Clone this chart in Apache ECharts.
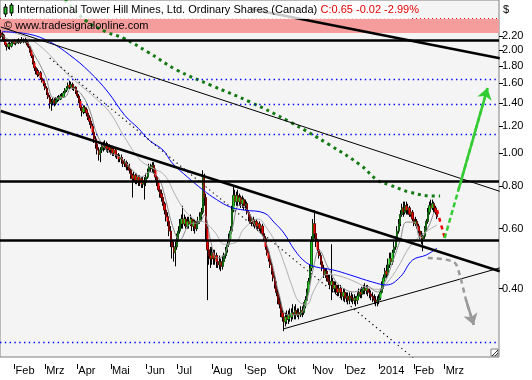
<!DOCTYPE html>
<html><head><meta charset="utf-8">
<script src="https://cdn.jsdelivr.net/npm/echarts@6/dist/echarts.min.js"></script>
<style>html,body{margin:0;padding:0;background:#fff}#c{width:532px;height:380px}</style>
</head><body><div id="c"></div>
<script>
// ---- axis definition ----
const startDate = [2013, 0, 21];      // first weekday on the axis
const dayCount = 326;                 // weekdays shown (incl. projection space)
const lastLabelDay = 300;             // no month label after this day
const monthNames = ['Jan','Feb','Mrz','Apr','Mai','Jun','Jul','Aug','Sep','Okt','Nov','Dez'];
const yTicks = [0.40,0.60,0.80,1.00,1.20,1.40,1.60,1.80,2.00,2.20];
const yMin = 0.252, yMax = 2.812;

// ---- daily prices (CAD) ----
const open = [
2.25,2.20,2.22,2.14,2.08,2.05,2.09,2.06,2.10,2.13, 2.10,2.12,2.14,2.11,2.13,2.15,2.12,2.14,2.10,2.05,
2.00,1.93,1.84,1.78,1.74,1.70,1.72,1.66,1.63,1.60, 1.55,1.50,1.46,1.40,1.41,1.43,1.40,1.43,1.45,1.44,
1.47,1.46,1.50,1.53,1.55,1.58,1.56,1.59,1.55,1.56, 1.51,1.47,1.42,1.36,1.32,1.36,1.34,1.31,1.27,1.24,
1.20,1.15,1.10,1.06,1.02,0.99,1.02,1.05,1.04,1.06, 1.03,1.04,1.02,1.03,1.00,1.02,0.99,0.98,0.96,0.97,
0.95,0.93,0.94,0.91,0.92,0.89,0.86,0.84,0.86,0.83, 0.85,0.82,0.84,0.81,0.83,0.82,0.85,0.88,0.91,0.90,
0.92,0.89,0.85,0.82,0.78,0.76,0.74,0.71,0.68,0.65, 0.63,0.59,0.55,0.53,0.51,0.53,0.56,0.59,0.62,0.64,
0.62,0.64,0.61,0.63,0.62,0.64,0.61,0.63,0.60,0.62, 0.63,0.65,0.67,0.85,0.74,0.60,0.52,0.50,0.49,0.51,
0.49,0.50,0.48,0.47,0.48,0.465,0.48,0.50,0.52,0.54, 0.56,0.59,0.68,0.75,0.72,0.75,0.72,0.74,0.71,0.73,
0.70,0.71,0.67,0.65,0.63,0.64,0.62,0.63,0.61,0.62, 0.60,0.61,0.58,0.56,0.53,0.51,0.49,0.47,0.45,0.43,
0.41,0.39,0.37,0.36,0.34,0.33,0.32,0.33,0.325,0.335, 0.33,0.34,0.335,0.345,0.335,0.34,0.335,0.345,0.34,0.355,
0.37,0.39,0.42,0.46,0.55,0.62,0.58,0.55,0.52,0.50, 0.48,0.46,0.44,0.45,0.43,0.42,0.41,0.42,0.40,0.41,
0.40,0.39,0.40,0.39,0.38,0.39,0.375,0.38,0.37,0.38, 0.375,0.37,0.375,0.37,0.38,0.39,0.385,0.395,0.40,0.395,
0.40,0.39,0.385,0.38,0.375,0.37,0.365,0.37,0.375,0.39, 0.41,0.43,0.45,0.44,0.47,0.49,0.48,0.51,0.53,0.56,
0.59,0.62,0.66,0.69,0.67,0.70,0.68,0.69,0.66,0.67, 0.64,0.62,0.63,0.61,0.59,0.57,0.56,0.57,0.60,0.63,
0.67,0.70,0.69,0.71,0.69,0.67];
const close = [
2.20,2.22,2.14,2.08,2.05,2.09,2.06,2.10,2.13,2.10, 2.12,2.14,2.11,2.13,2.15,2.12,2.14,2.10,2.05,2.00,
1.93,1.84,1.78,1.74,1.70,1.72,1.66,1.63,1.60,1.55, 1.50,1.46,1.40,1.41,1.43,1.40,1.43,1.45,1.44,1.47,
1.46,1.50,1.53,1.55,1.58,1.56,1.59,1.55,1.56,1.51, 1.47,1.42,1.36,1.32,1.36,1.34,1.31,1.27,1.24,1.20,
1.15,1.10,1.06,1.02,0.99,1.02,1.05,1.04,1.06,1.03, 1.04,1.02,1.03,1.00,1.02,0.99,0.98,0.96,0.97,0.95,
0.93,0.94,0.91,0.92,0.89,0.86,0.84,0.86,0.83,0.85, 0.82,0.84,0.81,0.83,0.82,0.85,0.88,0.91,0.90,0.92,
0.89,0.85,0.82,0.78,0.76,0.74,0.71,0.68,0.65,0.63, 0.59,0.55,0.53,0.51,0.53,0.56,0.59,0.62,0.64,0.62,
0.64,0.61,0.63,0.62,0.64,0.61,0.63,0.60,0.62,0.63, 0.65,0.67,0.85,0.74,0.60,0.52,0.50,0.49,0.51,0.49,
0.50,0.48,0.47,0.48,0.465,0.48,0.50,0.52,0.54,0.56, 0.59,0.68,0.75,0.72,0.75,0.72,0.74,0.71,0.73,0.70,
0.71,0.67,0.65,0.63,0.64,0.62,0.63,0.61,0.62,0.60, 0.61,0.58,0.56,0.53,0.51,0.49,0.47,0.45,0.43,0.41,
0.39,0.37,0.36,0.34,0.33,0.32,0.33,0.325,0.335,0.33, 0.34,0.335,0.345,0.335,0.34,0.335,0.345,0.34,0.355,0.37,
0.39,0.42,0.46,0.55,0.62,0.58,0.55,0.52,0.50,0.48, 0.46,0.44,0.45,0.43,0.42,0.41,0.42,0.40,0.41,0.40,
0.39,0.40,0.39,0.38,0.39,0.375,0.38,0.37,0.38,0.375, 0.37,0.375,0.37,0.38,0.39,0.385,0.395,0.40,0.395,0.40,
0.39,0.385,0.38,0.375,0.37,0.365,0.37,0.375,0.39,0.41, 0.43,0.45,0.44,0.47,0.49,0.48,0.51,0.53,0.56,0.59,
0.62,0.66,0.69,0.67,0.70,0.68,0.69,0.66,0.67,0.64, 0.62,0.63,0.61,0.59,0.57,0.56,0.57,0.60,0.63,0.67,
0.70,0.69,0.71,0.69,0.67,0.65];
const low = [
2.17,2.15,2.12,2.05,2.00,2.02,2.01,2.04,2.08,2.08, 2.07,2.10,2.09,2.09,2.11,2.10,2.10,2.07,2.03,1.97,
1.90,1.82,1.74,1.70,1.67,1.68,1.64,1.61,1.57,1.53, 1.48,1.44,1.35,1.33,1.38,1.37,1.38,1.41,1.42,1.43,
1.44,1.45,1.48,1.51,1.53,1.54,1.55,1.53,1.52,1.49, 1.45,1.40,1.33,1.28,1.30,1.31,1.28,1.25,1.21,1.18,
1.13,1.07,1.03,0.99,0.95,0.94,1.00,1.01,1.02,1.01, 1.00,1.00,0.99,0.98,0.98,0.97,0.96,0.94,0.94,0.93,
0.91,0.91,0.89,0.89,0.87,0.84,0.74,0.82,0.81,0.81, 0.80,0.80,0.79,0.79,0.73,0.80,0.84,0.87,0.88,0.88,
0.87,0.83,0.80,0.77,0.74,0.72,0.70,0.66,0.63,0.61, 0.57,0.53,0.49,0.48,0.465,0.52,0.55,0.58,0.60,0.60,
0.61,0.60,0.60,0.60,0.61,0.59,0.59,0.58,0.59,0.60, 0.62,0.63,0.66,0.70,0.55,0.37,0.47,0.46,0.47,0.47,
0.47,0.46,0.46,0.455,0.45,0.455,0.47,0.49,0.51,0.53, 0.55,0.58,0.67,0.70,0.70,0.70,0.70,0.69,0.69,0.68,
0.68,0.66,0.63,0.62,0.61,0.61,0.60,0.60,0.59,0.59, 0.58,0.57,0.55,0.52,0.50,0.48,0.46,0.44,0.42,0.40,
0.38,0.36,0.35,0.33,0.32,0.30,0.31,0.315,0.315,0.32, 0.32,0.325,0.325,0.325,0.33,0.325,0.33,0.33,0.335,0.35,
0.365,0.385,0.41,0.45,0.54,0.56,0.53,0.51,0.49,0.47, 0.45,0.43,0.43,0.42,0.41,0.40,0.37,0.39,0.39,0.385,
0.38,0.38,0.375,0.37,0.37,0.365,0.365,0.36,0.36,0.365, 0.36,0.36,0.355,0.36,0.37,0.375,0.375,0.385,0.385,0.385,
0.38,0.375,0.37,0.365,0.36,0.355,0.355,0.36,0.37,0.385, 0.40,0.42,0.43,0.435,0.46,0.47,0.47,0.50,0.52,0.55,
0.58,0.61,0.65,0.65,0.66,0.66,0.66,0.65,0.65,0.63, 0.61,0.61,0.60,0.58,0.56,0.54,0.515,0.56,0.59,0.62,
0.66,0.67,0.68,0.67,0.66,0.64];
const high = [
2.30,2.26,2.24,2.16,2.10,2.11,2.12,2.12,2.15,2.16, 2.14,2.16,2.17,2.16,2.19,2.17,2.18,2.16,2.11,2.06,
2.01,1.95,1.86,1.80,1.77,1.75,1.74,1.68,1.65,1.62, 1.57,1.52,1.48,1.44,1.45,1.45,1.46,1.47,1.48,1.49,
1.50,1.52,1.55,1.57,1.61,1.63,1.62,1.61,1.58,1.57, 1.53,1.49,1.44,1.38,1.38,1.38,1.36,1.33,1.29,1.26,
1.22,1.17,1.12,1.08,1.04,1.04,1.07,1.08,1.09,1.08, 1.07,1.06,1.05,1.05,1.04,1.03,1.01,1.00,0.99,0.99,
0.97,0.96,0.95,0.94,0.93,0.90,0.87,0.88,0.87,0.87, 0.86,0.86,0.85,0.85,0.85,0.87,0.90,0.93,0.93,0.94,
0.94,0.90,0.86,0.83,0.80,0.78,0.75,0.72,0.70,0.67, 0.64,0.61,0.57,0.55,0.55,0.58,0.61,0.64,0.66,0.70,
0.66,0.65,0.65,0.65,0.66,0.65,0.64,0.64,0.63,0.65, 0.67,0.69,0.89,0.87,0.76,0.61,0.55,0.53,0.53,0.52,
0.52,0.51,0.50,0.50,0.49,0.50,0.51,0.53,0.55,0.58, 0.61,0.70,0.80,0.78,0.77,0.78,0.76,0.75,0.75,0.74,
0.73,0.72,0.68,0.66,0.65,0.65,0.64,0.64,0.63,0.63, 0.62,0.62,0.59,0.57,0.54,0.52,0.50,0.48,0.46,0.44,
0.42,0.40,0.38,0.37,0.35,0.34,0.34,0.345,0.345,0.35, 0.35,0.36,0.355,0.36,0.35,0.35,0.355,0.355,0.365,0.38,
0.40,0.43,0.47,0.57,0.64,0.68,0.60,0.56,0.53,0.51, 0.49,0.47,0.46,0.46,0.44,0.44,0.54,0.43,0.42,0.42,
0.41,0.41,0.41,0.40,0.40,0.40,0.39,0.39,0.39,0.39, 0.385,0.385,0.38,0.39,0.40,0.40,0.405,0.41,0.415,0.41,
0.41,0.40,0.395,0.39,0.385,0.38,0.38,0.385,0.40,0.42, 0.44,0.46,0.47,0.49,0.51,0.51,0.52,0.55,0.57,0.61,
0.64,0.68,0.71,0.72,0.72,0.72,0.71,0.70,0.69,0.68, 0.65,0.65,0.64,0.62,0.60,0.59,0.58,0.61,0.64,0.69,
0.72,0.73,0.73,0.72,0.70,0.68];

// ---- indicator lines: [dayIndex, price] ----
const fastAvg = [[1,2.22],[9,2.12],[16,2.12],[22,1.94],[29,1.69],[35,1.45],[42,1.46],[46,1.55],[52,1.50],[58,1.34],[63,1.13],[70,1.01],[78,0.973],[86,0.891],[92,0.85],[97,0.88],[103,0.845],[107,0.753],[112,0.615],[117,0.556],[123,0.615],[130,0.627],[133,0.658],[137,0.556],[141,0.492],[146,0.502],[151,0.594],[156,0.704],[161,0.68],[167,0.602],[172,0.563],[177,0.479],[182,0.383],[187,0.335],[194,0.335],[199,0.358],[204,0.454],[208,0.519],[214,0.46],[221,0.41],[231,0.391],[239,0.407],[246,0.391],[251,0.418],[256,0.479],[261,0.556],[265,0.627],[270,0.627],[274,0.563],[279,0.602],[283,0.671]];
const slowAvg = [[1,2.30],[13,2.22],[22,2.12],[32,1.94],[42,1.73],[52,1.58],[61,1.46],[71,1.32],[81,1.11],[91,0.954],[99,0.904],[107,0.862],[114,0.753],[120,0.68],[127,0.636],[133,0.627],[140,0.585],[146,0.54],[153,0.545],[159,0.60],[168,0.64],[174,0.60],[181,0.53],[186,0.463],[190,0.41],[195,0.365],[200,0.36],[204,0.39],[208,0.42],[213,0.44],[221,0.436],[232,0.418],[241,0.40],[247,0.398],[254,0.425],[261,0.475],[267,0.53],[275,0.575],[285,0.615]];
const blueAvg = [[1,2.27],[19,2.23],[32,2.12],[45,1.94],[58,1.73],[70,1.51],[81,1.29],[90,1.18],[97,1.09],[106,1.02],[112,0.935],[122,0.85],[132,0.78],[141,0.73],[150,0.694],[159,0.68],[172,0.667],[179,0.623],[185,0.582],[192,0.519],[199,0.479],[206,0.463],[217,0.454],[228,0.439],[243,0.418],[252,0.41],[261,0.433],[269,0.485],[278,0.502],[285,0.526]];
const longAvg = [[39,2.91],[55,2.457],[69,2.265],[80,2.175],[96,1.979],[115,1.752],[137,1.583],[163,1.411],[189,1.233],[215,1.055],[235,0.922],[246,0.833],[254,0.806],[267,0.768],[282,0.748],[287,0.748]];

// ---- drawn levels and trendlines ----
const thickLevels = [2.146, 0.828, 0.556];
const dottedLevels = [1.649, 1.392, 1.137, 0.279];
const pinkBand = [2.25, 2.473];
const trendThickLower = [[-0.5,1.328],[325.5,0.450]];
const trendThickUpper = [[162.8,2.646],[325.5,1.897]];
const trendThinUpper = [[-0.5,2.343],[325.5,0.772]];
const trendThinLower = [[185,0.305],[325.5,0.460]];
const trendDotted = [[32,1.90],[275,0.239]];
const redPath = [[285,0.68],[289.5,0.565]];
const greenPath = [[289.6,0.563],[298.7,0.779],[317.7,1.551]];
const grayPath = [[279.1,0.492],[296.1,0.479],[300.0,0.436],[303.9,0.370],[308.5,0.313]];

// ---- build ----
const L = Math.log;
const cats = [];
{ const d = new Date(Date.UTC(startDate[0], startDate[1], startDate[2]));
  while (cats.length < dayCount) { const wd = d.getUTCDay(); if (wd > 0 && wd < 6) cats.push(d.toISOString().slice(0,10)); d.setUTCDate(d.getUTCDate()+1); } }
const isMonthStart = (idx) => idx > 0 && idx < lastLabelDay && cats[idx].slice(5,7) !== cats[idx-1].slice(5,7);
const candles = open.map((o,i)=>[L(o),L(close[i]),L(low[i]),L(high[i])]);
const toLn = a => a.map(([i,p])=>[i,L(p)]);
const FONT = 'Liberation Sans, Arial, sans-serif';

function lineSeries(data, color, width, type, smooth, z) {
  return {type:'line', data:toLn(data), symbol:'none', smooth: smooth||false, silent:true,
    lineStyle:{color, width, type: type||'solid'}, z: z||3, clip:true};
}
function arrowHead(path, color, width, dash) {
  const n = path.length;
  return {type:'lines', coordinateSystem:'cartesian2d', silent:true, z:6,
    symbol:['none','arrow'], symbolSize:[9,11],
    lineStyle:{color, width, type:dash, opacity:1},
    data:[{coords:[[path[n-2][0],L(path[n-2][1])],[path[n-1][0],L(path[n-1][1])]]}]};
}

const chart = echarts.init(document.getElementById('c'), null, {renderer:'canvas'});
chart.setOption({
  animation:false,
  textStyle:{fontFamily:FONT},
  grid:{left:0, right:33, top:0, bottom:23, show:true, backgroundColor:'#f4f4f4', borderColor:'#808080', borderWidth:1},
  xAxis:{type:'category', data:cats, boundaryGap:true, offset:7,
    axisLine:{show:false, onZero:false},
    axisTick:{show:true, alignWithLabel:true, interval:(i)=>isMonthStart(i), length:5, lineStyle:{color:'#000'}},
    axisLabel:{interval:(i)=>isMonthStart(i), align:'left', margin:1, padding:[0,0,0,1], fontSize:11, color:'#000', fontFamily:FONT,
      formatter:(v)=>{const m=+v.slice(5,7); return m===1 ? v.slice(0,4) : monthNames[m-1];}},
    splitLine:{show:false}},
  yAxis:{type:'value', position:'right', min:L(yMin), max:L(yMax),
    axisLine:{show:false, onZero:false},
    axisTick:{show:true, length:4, customValues:yTicks.map(L), lineStyle:{color:'#000'}},
    axisLabel:{customValues:yTicks.map(L), margin:3, fontSize:11, color:'#000', fontFamily:FONT,
      formatter:(v)=>Math.exp(v).toFixed(2)},
    splitLine:{show:false}},
  graphic:[
    {type:'rect', shape:{x:1,y:1,width:411,height:18}, style:{fill:'rgba(255,255,255,0.78)'}, z:100},
    {type:'line', shape:{x1:5.5,y1:4,x2:5.5,y2:17}, style:{stroke:'#000',lineWidth:1}, z:101},
    {type:'rect', shape:{x:4,y:7,width:3,height:7}, style:{fill:'#22c022',stroke:'#000',lineWidth:1}, z:102},
    {type:'line', shape:{x1:11.5,y1:3,x2:11.5,y2:16}, style:{stroke:'#000',lineWidth:1}, z:101},
    {type:'rect', shape:{x:10,y:5,width:3,height:8}, style:{fill:'#22c022',stroke:'#000',lineWidth:1}, z:102},
    {type:'text', x:17, y:10, z:101, style:{
      text:'{a|International Tower Hill Mines, Ltd. Ordinary Shares (Canada)} {b|C:0.65 -0.02 -2.99%}',
      verticalAlign:'middle',
      rich:{a:{fill:'#000', fontSize:11, fontFamily:FONT}, b:{fill:'#e00000', fontSize:11, fontFamily:FONT}}}},
    {type:'text', x:4, y:26, z:101, style:{text:'© www.tradesignalonline.com', fill:'#000', fontSize:11, fontFamily:FONT, verticalAlign:'middle'}},
    {type:'text', x:503, y:10, z:101, style:{text:'$', fill:'#000', fontSize:11, fontFamily:FONT, verticalAlign:'middle'}},
    {type:'rect', shape:{x:491,y:349,width:7,height:7}, style:{fill:'#fff',stroke:'#808080',lineWidth:1}, z:101},
    {type:'line', shape:{x1:492,y1:356,x2:498,y2:350}, style:{stroke:'#333',lineWidth:1}, z:102},
    {type:'line', shape:{x1:495,y1:356,x2:498,y2:353}, style:{stroke:'#333',lineWidth:1}, z:102}
  ],
  series:[
    {type:'line', data:[], silent:true, z:1,
      markArea:{silent:true, itemStyle:{color:'#f59c9c'}, data:[[{yAxis:L(pinkBand[0])},{yAxis:L(pinkBand[1])}]]},
      markLine:{silent:true, symbol:'none', label:{show:false},
        data:[
          ...thickLevels.map(v=>({yAxis:L(v), lineStyle:{color:'#000', width:2.6, type:'solid'}})),
          ...dottedLevels.map(v=>({yAxis:L(v), lineStyle:{color:'#0000ff', width:1.4, type:[1.4,3.4]}})),
          {yAxis:L(pinkBand[1]), lineStyle:{color:'#e00000', width:1, type:[1,3]}}
        ]}},
    {type:'candlestick', data:candles, barWidth:1.6, silent:true, z:2,
      itemStyle:{color:'#000', color0:'#000', borderColor:'#000', borderColor0:'#000', borderWidth:1}},
    {type:'candlestick', data:candles, barWidth:1.8, silent:true, z:2,
      itemStyle:{color:'#1ec31e', color0:'#f00000', borderColor:'#1ec31e', borderColor0:'#f00000', borderWidth:0}},
    lineSeries(slowAvg, '#b0b0b0', 1, 'solid', 0.4, 3),
    lineSeries(fastAvg, '#8a8a8a', 1, 'solid', 0.4, 3),
    lineSeries(blueAvg, '#0000ff', 1, 'solid', 0.4, 3),
    lineSeries(longAvg, '#137a13', 3, [3,4], 0.4, 4),
    lineSeries(trendDotted, '#000', 1.2, [1.2,3.5], false, 4),
    lineSeries(trendThickLower, '#000', 2.6, 'solid', false, 5),
    lineSeries(trendThickUpper, '#000', 2.6, 'solid', false, 5),
    lineSeries(trendThinUpper, '#000', 1, 'solid', false, 5),
    lineSeries(trendThinLower, '#000', 1, 'solid', false, 5),
    lineSeries(redPath, '#ee0000', 2.5, [4,4], false, 6),
    lineSeries(greenPath, '#33cc33', 2.5, [5,3], 0.3, 6),
    lineSeries(grayPath, '#9a9a9a', 2.5, [5,4], 0.3, 6),
    arrowHead(greenPath, '#33cc33', 2.5, 'solid'),
    arrowHead(grayPath, '#9a9a9a', 2.5, 'solid')
  ]
});
</script>
</body></html>
